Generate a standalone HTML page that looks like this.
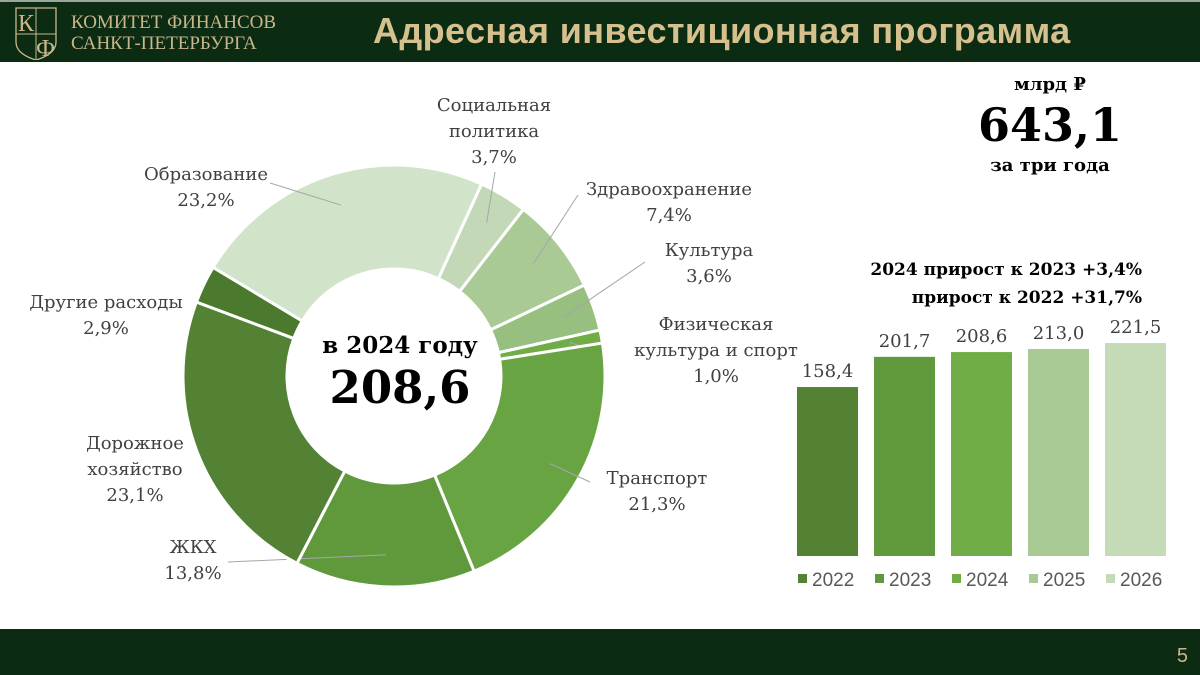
<!DOCTYPE html>
<html><head><meta charset="utf-8"><style>
body{margin:0;width:1200px;height:675px;background:#fff;position:relative;overflow:hidden;font-family:"DejaVu Serif","Liberation Serif",serif}
.hdr{position:absolute;left:0;top:0;width:1200px;height:62px;background:#0b2b13;border-top:2px solid #9aa79c;box-sizing:border-box}
.ftr{position:absolute;left:0;top:629px;width:1200px;height:46px;background:#0b2b13}
.t{position:absolute;white-space:nowrap}
.lbl{position:absolute;text-align:center;color:#404040;font-size:18px;line-height:26px;white-space:nowrap;font-family:"DejaVu Serif","Liberation Serif",serif}
</style></head><body>
<div class="hdr">
 <svg class="t" style="left:12px;top:2px" width="48" height="56"><path d="M4 4 L44 4 L44 38 Q44 50 24 56 Q4 50 4 38 Z" fill="none" stroke="#c9b68a" stroke-width="1.3"/><line x1="24" y1="4" x2="24" y2="56" stroke="#c9b68a"/><line x1="4" y1="30" x2="44" y2="30" stroke="#c9b68a"/><text x="6" y="27" fill="#c9b68a" font-size="24" font-family="Liberation Serif">К</text><text x="24" y="52" fill="#c9b68a" font-size="24" font-family="Liberation Serif">Ф</text></svg>
 <div class="t" style="left:71px;top:10px;color:#c9b68a;font-size:19px;line-height:21px;font-family:'Liberation Serif',serif">КОМИТЕТ ФИНАНСОВ<br>САНКТ-ПЕТЕРБУРГА</div>
 <div class="t" style="left:373px;top:8px;color:#d6c08e;font-size:36px;font-weight:bold;font-family:'Liberation Sans',sans-serif;letter-spacing:0.4px">Адресная инвестиционная программа</div>
</div>
<div class="ftr"><div class="t" style="right:12px;top:16px;color:#c9b68a;font-size:20px;font-family:'Liberation Sans',sans-serif">5</div></div>

<svg id="donut" class="t" style="left:0;top:0" width="760" height="629"></svg>
<div class="t" style="left:400px;top:332px;transform:translateX(-50%);text-align:center"><div style="font-size:23px;font-weight:bold">в 2024 году</div><div style="font-size:45px;font-weight:bold;line-height:58px">208,6</div></div>

<div class="lbl" style="left:494px;top:93px;transform:translateX(-50%)">Социальная<br>политика<br>3,7%</div>
<div class="lbl" style="left:669px;top:177px;transform:translateX(-50%)">Здравоохранение<br>7,4%</div>
<div class="lbl" style="left:709px;top:238px;transform:translateX(-50%)">Культура<br>3,6%</div>
<div class="lbl" style="left:716px;top:312px;transform:translateX(-50%)">Физическая<br>культура и спорт<br>1,0%</div>
<div class="lbl" style="left:657px;top:466px;transform:translateX(-50%)">Транспорт<br>21,3%</div>
<div class="lbl" style="left:193px;top:535px;transform:translateX(-50%)">ЖКХ<br>13,8%</div>
<div class="lbl" style="left:135px;top:431px;transform:translateX(-50%)">Дорожное<br>хозяйство<br>23,1%</div>
<div class="lbl" style="left:106px;top:290px;transform:translateX(-50%)">Другие расходы<br>2,9%</div>
<div class="lbl" style="left:206px;top:162px;transform:translateX(-50%)">Образование<br>23,2%</div>

<div class="t" style="left:1050px;top:74px;transform:translateX(-50%);text-align:center"><div style="font-size:18px;font-weight:bold">млрд ₽</div><div style="font-size:46px;font-weight:bold;line-height:60px">643,1</div><div style="font-size:18px;font-weight:bold">за три года</div></div>
<div class="t" style="right:58px;top:256px;text-align:right;font-size:17px;font-weight:bold;line-height:28px">2024 прирост к 2023 +3,4%<br>прирост к 2022 +31,7%</div>

<svg id="bars" class="t" style="left:760px;top:300px" width="440" height="300"></svg>

<script>
const sliceNames=["social","health","culture","sport","transport","housing","roads","other","education"];
const sliceValues=[3.7,7.4,3.6,1.0,21.3,13.8,23.1,2.9,23.2];
const sliceColors=["#c2d8b6","#a9c995","#96bf80","#70ad47","#68a542","#5f993c","#548235","#4b7a2e","#d1e3c8"];
const labelAnchors=[[495,172],[578,195],[645,262],[600,352],[590,482],[228,562],[0,0],[0,0],[270,183]];
const svgNS="http://www.w3.org/2000/svg";
const d=document.getElementById("donut");
const cx=394,cy=376,R=211,r=107,start=24.5;
const total=sliceValues.reduce((a,b)=>a+b,0);
function pt(a,rad){const t=(a-90)*Math.PI/180;return [cx+rad*Math.cos(t),cy+rad*Math.sin(t)];}
let a0=start;
sliceValues.forEach((v,i)=>{
 const a1=a0+v/total*360;const lg=(a1-a0)>180?1:0;
 const p1=pt(a0,R),p2=pt(a1,R),p3=pt(a1,r),p4=pt(a0,r);
 const p=document.createElementNS(svgNS,"path");
 p.setAttribute("d",`M${p1} A${R} ${R} 0 ${lg} 1 ${p2} L${p3} A${r} ${r} 0 ${lg} 0 ${p4} Z`);
 p.setAttribute("fill",sliceColors[i]);p.setAttribute("stroke","#fff");p.setAttribute("stroke-width","3");
 
 
 d.appendChild(p);
 const la=labelAnchors[i];
 if(la[0]){const m=pt((a0+a1)/2,(R+r)/2+20);const l=document.createElementNS(svgNS,"line");
  l.setAttribute("x1",m[0]);l.setAttribute("y1",m[1]);l.setAttribute("x2",la[0]);l.setAttribute("y2",la[1]);
  l.setAttribute("stroke","#a6a6a6");l.setAttribute("stroke-width","1");
  
  
  d.appendChild(l);}
 a0=a1;
});
const years=["2022","2023","2024","2025","2026"];
const barValues=[158.4,201.7,208.6,213.0,221.5];
const barLabels=["158,4","201,7","208,6","213,0","221,5"];
const barColors=["#548235","#5f993c","#70ad47","#a9c995","#c5dbb8"];
const b=document.getElementById("bars");
const base=256,x0=37,step=77,bw=61;
function yScale(v){return base-0.697*(v+84);}
barValues.forEach((v,i)=>{
 const x=x0+i*step,y=yScale(v);
 const rc=document.createElementNS(svgNS,"rect");
 rc.setAttribute("x",x);rc.setAttribute("y",y);rc.setAttribute("width",bw);rc.setAttribute("height",base-y);rc.setAttribute("fill",barColors[i]);
 
 
 b.appendChild(rc);
 const t=document.createElementNS(svgNS,"text");
 t.setAttribute("x",x+bw/2);t.setAttribute("y",y-10);t.setAttribute("text-anchor","middle");
 t.setAttribute("font-size","18");t.setAttribute("fill","#404040");t.setAttribute("font-family","DejaVu Serif");
 t.textContent=barLabels[i];
 
 
 b.appendChild(t);
 const lx=x+1;
 const sq=document.createElementNS(svgNS,"rect");
 sq.setAttribute("x",lx);sq.setAttribute("y",274);sq.setAttribute("width",9);sq.setAttribute("height",9);sq.setAttribute("fill",barColors[i]);
 
 
 b.appendChild(sq);
 const lt=document.createElementNS(svgNS,"text");
 lt.setAttribute("x",lx+14);lt.setAttribute("y",286);lt.setAttribute("font-size","19");lt.setAttribute("fill","#595959");lt.setAttribute("font-family","Liberation Sans");
 lt.textContent=years[i];
 
 
 b.appendChild(lt);
});
</script>
</body></html>
